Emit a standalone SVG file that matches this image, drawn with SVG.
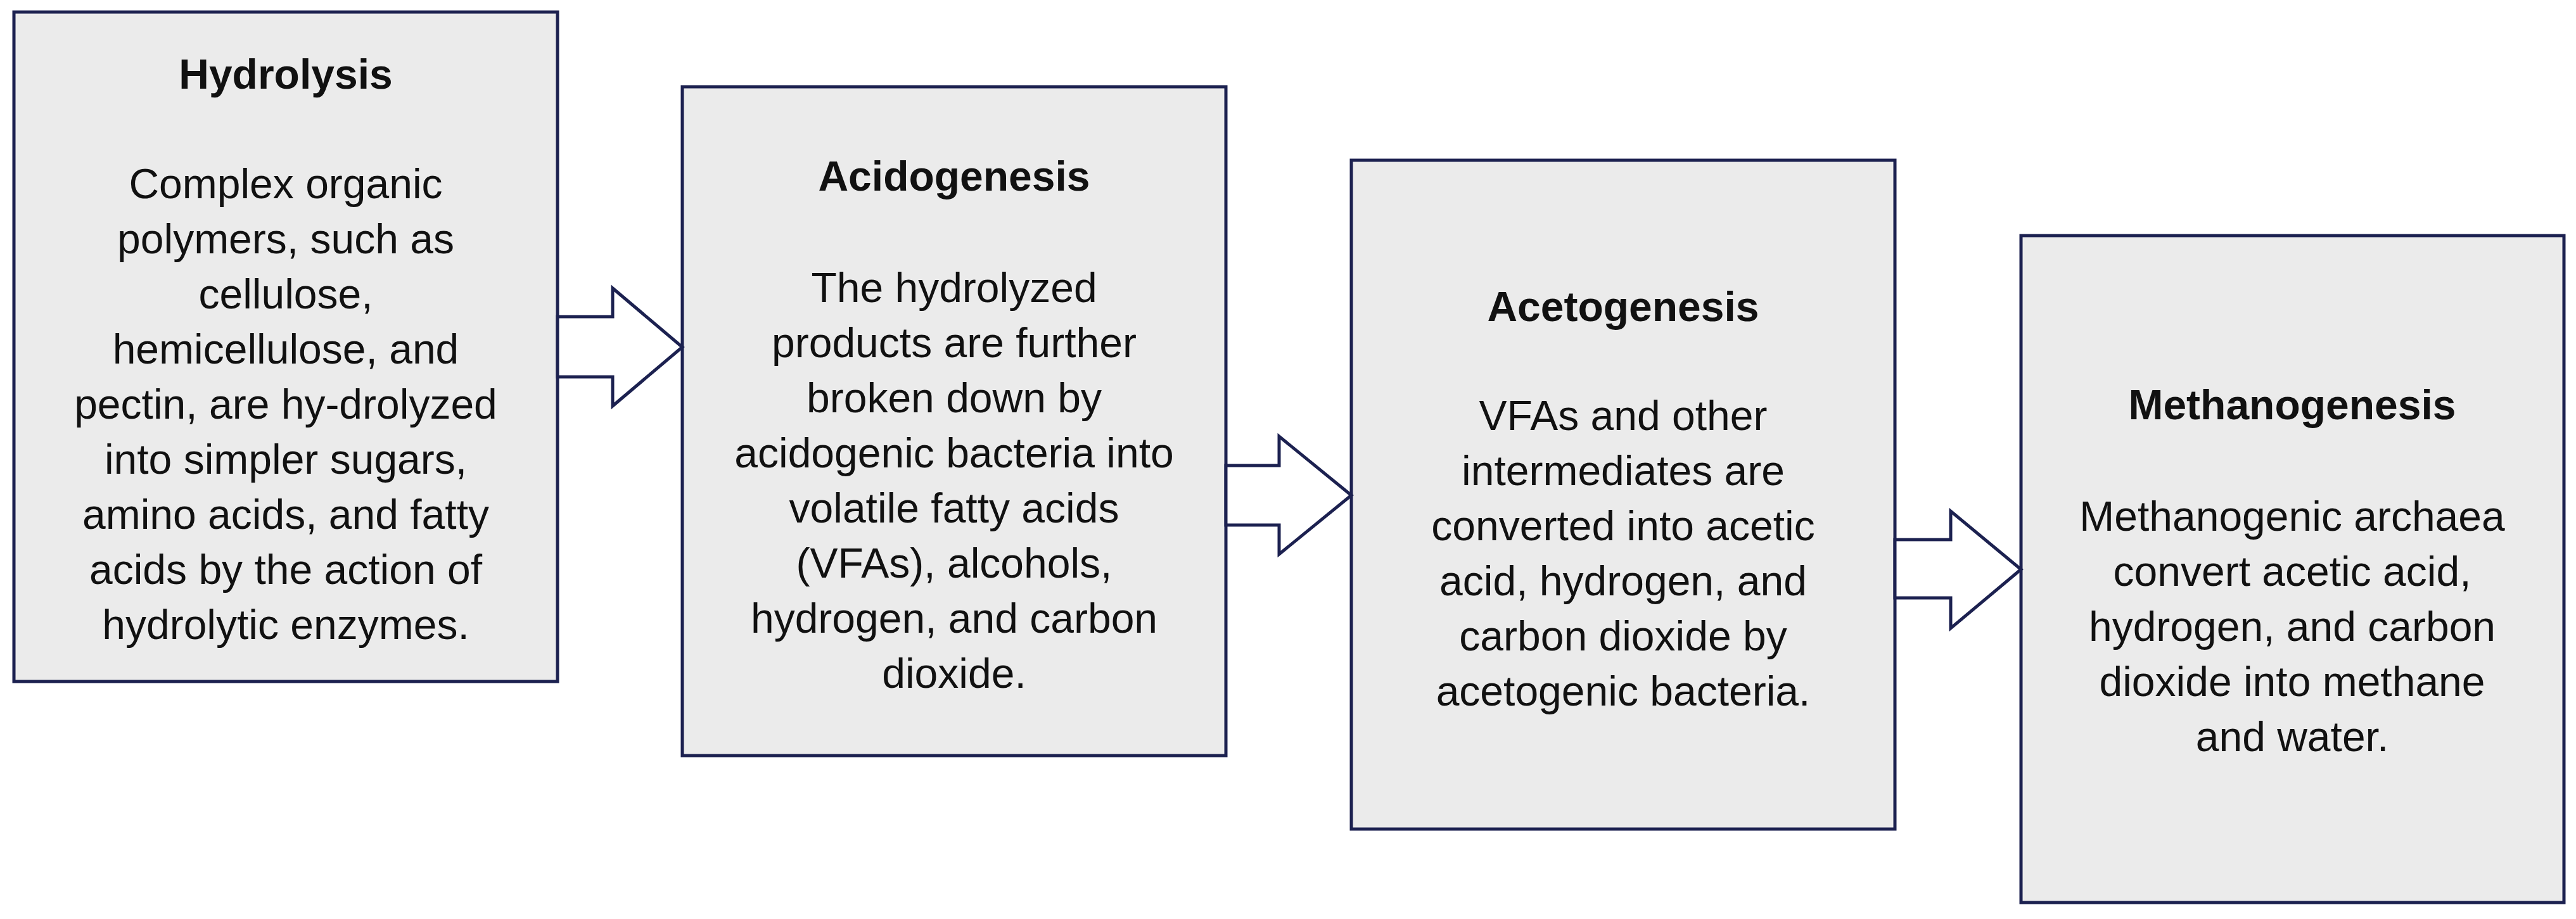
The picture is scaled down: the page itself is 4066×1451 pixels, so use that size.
<svg xmlns="http://www.w3.org/2000/svg" width="4066" height="1451" viewBox="0 0 4066 1451">
<style>
.box{fill:#ebebeb;stroke:#1c2150;stroke-width:5}
.arr{fill:#fff;stroke:#1c2150;stroke-width:5;stroke-linejoin:miter}
text{font-family:"Liberation Sans",Arial,sans-serif;font-size:66px;fill:#111;text-anchor:middle}
.t{font-weight:bold}
</style>
<rect width="4066" height="1451" fill="#fff"/>
<g id="hydrolysis"><rect class="box" x="22" y="19" width="858" height="1057"/>
<text class="t" x="451" y="140">Hydrolysis</text>
<text x="451" y="313">Complex organic<tspan x="451" dy="87">polymers, such as</tspan><tspan x="451" dy="87">cellulose,</tspan><tspan x="451" dy="87">hemicellulose, and</tspan><tspan x="451" dy="87">pectin, are hy-drolyzed</tspan><tspan x="451" dy="87">into simpler sugars,</tspan><tspan x="451" dy="87">amino acids, and fatty</tspan><tspan x="451" dy="87">acids by the action of</tspan><tspan x="451" dy="87">hydrolytic enzymes.</tspan></text></g>
<g id="acidogenesis"><rect class="box" x="1077" y="137" width="858" height="1056"/>
<text class="t" x="1506" y="301">Acidogenesis</text>
<text x="1506" y="477">The hydrolyzed<tspan x="1506" dy="87">products are further</tspan><tspan x="1506" dy="87">broken down by</tspan><tspan x="1506" dy="87">acidogenic bacteria into</tspan><tspan x="1506" dy="87">volatile fatty acids</tspan><tspan x="1506" dy="87">(VFAs), alcohols,</tspan><tspan x="1506" dy="87">hydrogen, and carbon</tspan><tspan x="1506" dy="87">dioxide.</tspan></text></g>
<g id="acetogenesis"><rect class="box" x="2133" y="253" width="858" height="1056"/>
<text class="t" x="2562" y="507">Acetogenesis</text>
<text x="2562" y="679">VFAs and other<tspan x="2562" dy="87">intermediates are</tspan><tspan x="2562" dy="87">converted into acetic</tspan><tspan x="2562" dy="87">acid, hydrogen, and</tspan><tspan x="2562" dy="87">carbon dioxide by</tspan><tspan x="2562" dy="87">acetogenic bacteria.</tspan></text></g>
<g id="methanogenesis"><rect class="box" x="3190" y="372" width="857" height="1053"/>
<text class="t" x="3618" y="662">Methanogenesis</text>
<text x="3618" y="838">Methanogenic archaea<tspan x="3618" dy="87">convert acetic acid,</tspan><tspan x="3618" dy="87">hydrogen, and carbon</tspan><tspan x="3618" dy="87">dioxide into methane</tspan><tspan x="3618" dy="87">and water.</tspan></text></g>
<g id="connectors">
<path class="arr" d="M880,500 H967 V455 L1077,548 L967,641 V595 H880 Z"/>
<path class="arr" d="M1935,735 H2019 V689 L2133,782 L2019,875 V829 H1935 Z"/>
<path class="arr" d="M2991,852 H3079 V807 L3190,899 L3079,992 V944 H2991 Z"/>
</g>
</svg>
